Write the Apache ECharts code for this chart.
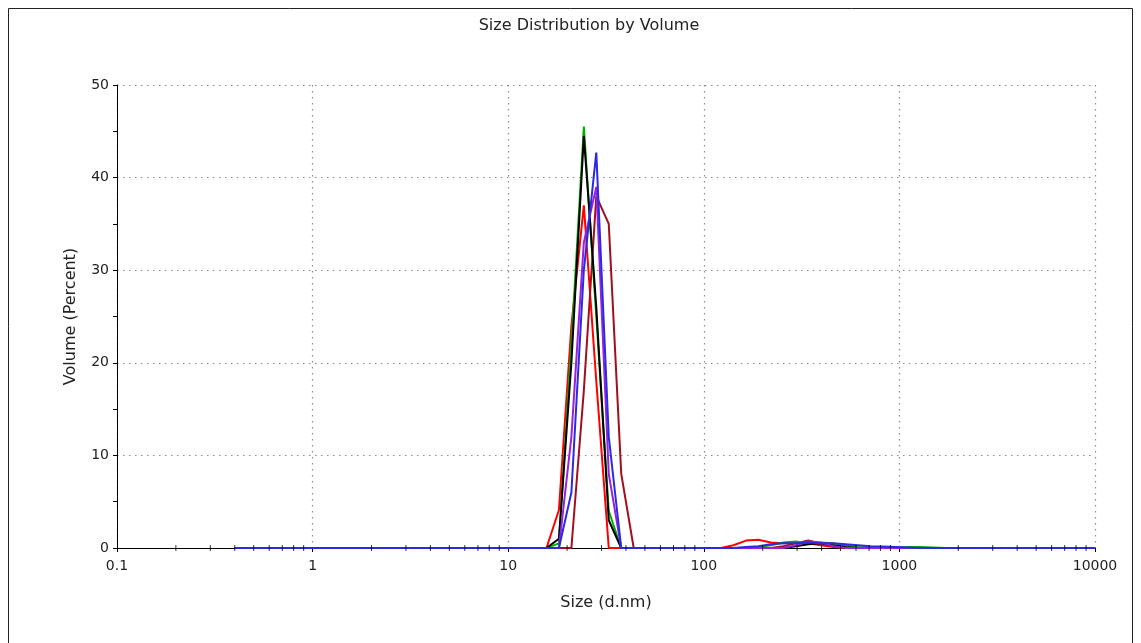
<!DOCTYPE html>
<html>
<head>
<meta charset="utf-8">
<script src="https://cdn.jsdelivr.net/npm/echarts@6/dist/echarts.min.js"></script>
<style>
    html, body { margin: 0; padding: 0; background: #fff; }
    #chart { width: 1141px; height: 643px; }
</style>
</head>
<body>
<div id="chart"></div>
<script>
    // size bins (d.nm)
    var sizes = [
        0.4, 0.4632, 0.5365, 0.6213, 0.7195, 0.8332, 0.9649, 1.117, 1.294, 1.499,
        1.736, 2.01, 2.328, 2.696, 3.122, 3.615, 4.187, 4.849, 5.615, 6.503,
        7.531, 8.721, 10.1, 11.7, 13.54, 15.69, 18.17, 21.04, 24.36, 28.21,
        32.67, 37.84, 43.82, 50.75, 58.77, 68.06, 78.82, 91.28, 105.7, 122.4,
        141.8, 164.2, 190.1, 220.2, 255.0, 295.3, 342.0, 396.1, 458.7, 531.2,
        615.1, 712.4, 825.0, 955.4, 1106, 1281, 1484, 1718, 1990, 2305,
        2669, 3091, 3580, 4145, 4801, 5560, 6439, 7456, 8635, 10000
    ];

    // volume % per record
    var redVol = [
        0, 0, 0, 0, 0, 0, 0, 0, 0, 0,
        0, 0, 0, 0, 0, 0, 0, 0, 0, 0,
        0, 0, 0, 0, 0, 0, 4.1, 24, 37, 18,
        0, 0, 0, 0, 0, 0, 0, 0, 0, 0,
        0.3, 0.8, 0.9, 0.6, 0.5, 0.6, 0.5, 0.3, 0.1, 0,
        0, 0, 0, 0, 0, 0, 0, 0, 0, 0,
        0, 0, 0, 0, 0, 0, 0, 0, 0, 0
    ];
    var maroonVol = [
        0, 0, 0, 0, 0, 0, 0, 0, 0, 0,
        0, 0, 0, 0, 0, 0, 0, 0, 0, 0,
        0, 0, 0, 0, 0, 0, 0, 0, 17, 38,
        35, 8, 0, 0, 0, 0, 0, 0, 0, 0,
        0, 0, 0, 0, 0.2, 0.5, 0.8, 0.5, 0.2, 0,
        0, 0, 0, 0, 0, 0, 0, 0, 0, 0,
        0, 0, 0, 0, 0, 0, 0, 0, 0, 0
    ];
    var greenVol = [
        0, 0, 0, 0, 0, 0, 0, 0, 0, 0,
        0, 0, 0, 0, 0, 0, 0, 0, 0, 0,
        0, 0, 0, 0, 0, 0, 0.5, 22, 45.5, 25,
        4, 0, 0, 0, 0, 0, 0, 0, 0, 0,
        0, 0, 0.1, 0.3, 0.6, 0.7, 0.5, 0.6, 0.5, 0.3,
        0.1, 0.05, 0.05, 0.05, 0.1, 0.1, 0.05, 0, 0, 0,
        0, 0, 0, 0, 0, 0, 0, 0, 0, 0
    ];
    var blackVol = [
        0, 0, 0, 0, 0, 0, 0, 0, 0, 0,
        0, 0, 0, 0, 0, 0, 0, 0, 0, 0,
        0, 0, 0, 0, 0, 0, 1, 20, 44.5, 26,
        3, 0, 0, 0, 0, 0, 0, 0, 0, 0,
        0, 0, 0, 0, 0, 0.2, 0.4, 0.5, 0.3, 0.1,
        0, 0, 0, 0, 0, 0, 0, 0, 0, 0,
        0, 0, 0, 0, 0, 0, 0, 0, 0, 0
    ];
    var purpleVol = [
        0, 0, 0, 0, 0, 0, 0, 0, 0, 0,
        0, 0, 0, 0, 0, 0, 0, 0, 0, 0,
        0, 0, 0, 0, 0, 0, 0, 12, 33, 39,
        8, 0, 0, 0, 0, 0, 0, 0, 0, 0,
        0, 0, 0, 0, 0, 0.3, 0.7, 0.6, 0.2, 0,
        0, 0, 0, 0, 0, 0, 0, 0, 0, 0,
        0, 0, 0, 0, 0, 0, 0, 0, 0, 0
    ];
    var blueVol = [
        0, 0, 0, 0, 0, 0, 0, 0, 0, 0,
        0, 0, 0, 0, 0, 0, 0, 0, 0, 0,
        0, 0, 0, 0, 0, 0, 0, 6, 30, 42.7,
        12, 0, 0, 0, 0, 0, 0, 0, 0, 0,
        0, 0.1, 0.2, 0.4, 0.5, 0.5, 0.6, 0.5, 0.5, 0.4,
        0.3, 0.2, 0.15, 0.1, 0.05, 0, 0, 0, 0, 0,
        0, 0, 0, 0, 0, 0, 0, 0, 0, 0
    ];

    // minor tick positions on the log axis
    var minorTickSizes = [
        0.2, 0.3, 0.4, 0.5, 0.6, 0.7, 0.8, 0.9,
        2, 3, 4, 5, 6, 7, 8, 9,
        20, 30, 40, 50, 60, 70, 80, 90,
        200, 300, 400, 500, 600, 700, 800, 900,
        2000, 3000, 4000, 5000, 6000, 7000, 8000, 9000
    ];

    function pairs(vals) {
        var out = [];
        for (var i = 0; i < sizes.length; i++) {
            out.push([sizes[i], vals[i]]);
        }
        return out;
    }

    function lineSeries(name, color, vals) {
        return {
            name: name,
            type: 'line',
            data: pairs(vals),
            symbol: 'none',
            lineStyle: { color: color, width: 2 },
            itemStyle: { color: color },
            z: 3
        };
    }

    var chart = echarts.init(document.getElementById('chart'), null, { renderer: 'canvas' });
    var font = '"DejaVu Sans", Verdana, sans-serif';
    var dotted = { color: '#8a8a8a', width: 1.2, type: [1.5, 4.5] };

    var option = {
        backgroundColor: '#fff',
        animation: false,
        title: {
            text: 'Size Distribution by Volume',
            left: 584,
            top: 13,
            textAlign: 'center',
            textStyle: { fontFamily: font, fontSize: 16, fontWeight: 'normal', color: '#222' }
        },
        graphic: [{
            type: 'rect',
            shape: { x: 8.5, y: 8.5, width: 1124, height: 660 },
            style: { fill: 'none', stroke: '#222', lineWidth: 1 },
            silent: true
        }],
        grid: { left: 117, right: 46, top: 85, bottom: 95 },
        xAxis: {
            type: 'log',
            logBase: 10,
            min: 0.1,
            max: 10000,
            name: 'Size (d.nm)',
            nameLocation: 'middle',
            nameGap: 47,
            nameTextStyle: { fontFamily: font, fontSize: 16, color: '#222' },
            axisLine: { onZero: false, lineStyle: { color: '#000', width: 1 } },
            axisTick: { show: true, length: 4, lineStyle: { color: '#000' } },
            axisLabel: {
                fontFamily: font, fontSize: 14, color: '#222', margin: 11,
                formatter: function (v) { return String(+v.toPrecision(6)); }
            },
            splitLine: { show: true, lineStyle: dotted }
        },
        yAxis: {
            type: 'value',
            min: 0,
            max: 50,
            interval: 10,
            name: 'Volume (Percent)',
            nameLocation: 'middle',
            nameGap: 38,
            nameTextStyle: { fontFamily: font, fontSize: 16, color: '#222' },
            axisLine: { show: true, lineStyle: { color: '#000', width: 1 } },
            axisTick: { show: true, length: 4, lineStyle: { color: '#000' } },
            minorTick: { show: true, splitNumber: 2, length: 4, lineStyle: { color: '#000' } },
            axisLabel: { fontFamily: font, fontSize: 14, color: '#222', margin: 8 },
            splitLine: { show: true, lineStyle: dotted }
        },
        series: [
            lineSeries('Record 1', '#ff0000', redVol),
            lineSeries('Record 2', '#a0101e', maroonVol),
            lineSeries('Record 3', '#00b000', greenVol),
            lineSeries('Record 4', '#000000', blackVol),
            lineSeries('Record 5', '#9a20e0', purpleVol),
            lineSeries('Record 6', '#2a2ae0', blueVol),
            {
                name: 'ticks',
                type: 'scatter',
                data: minorTickSizes.map(function (s) { return [s, 0]; }),
                symbol: 'rect',
                symbolSize: [1, 6],
                itemStyle: { color: '#000' },
                silent: true,
                z: 5
            }
        ]
    };
    chart.setOption(option);
</script>
</body>
</html>
